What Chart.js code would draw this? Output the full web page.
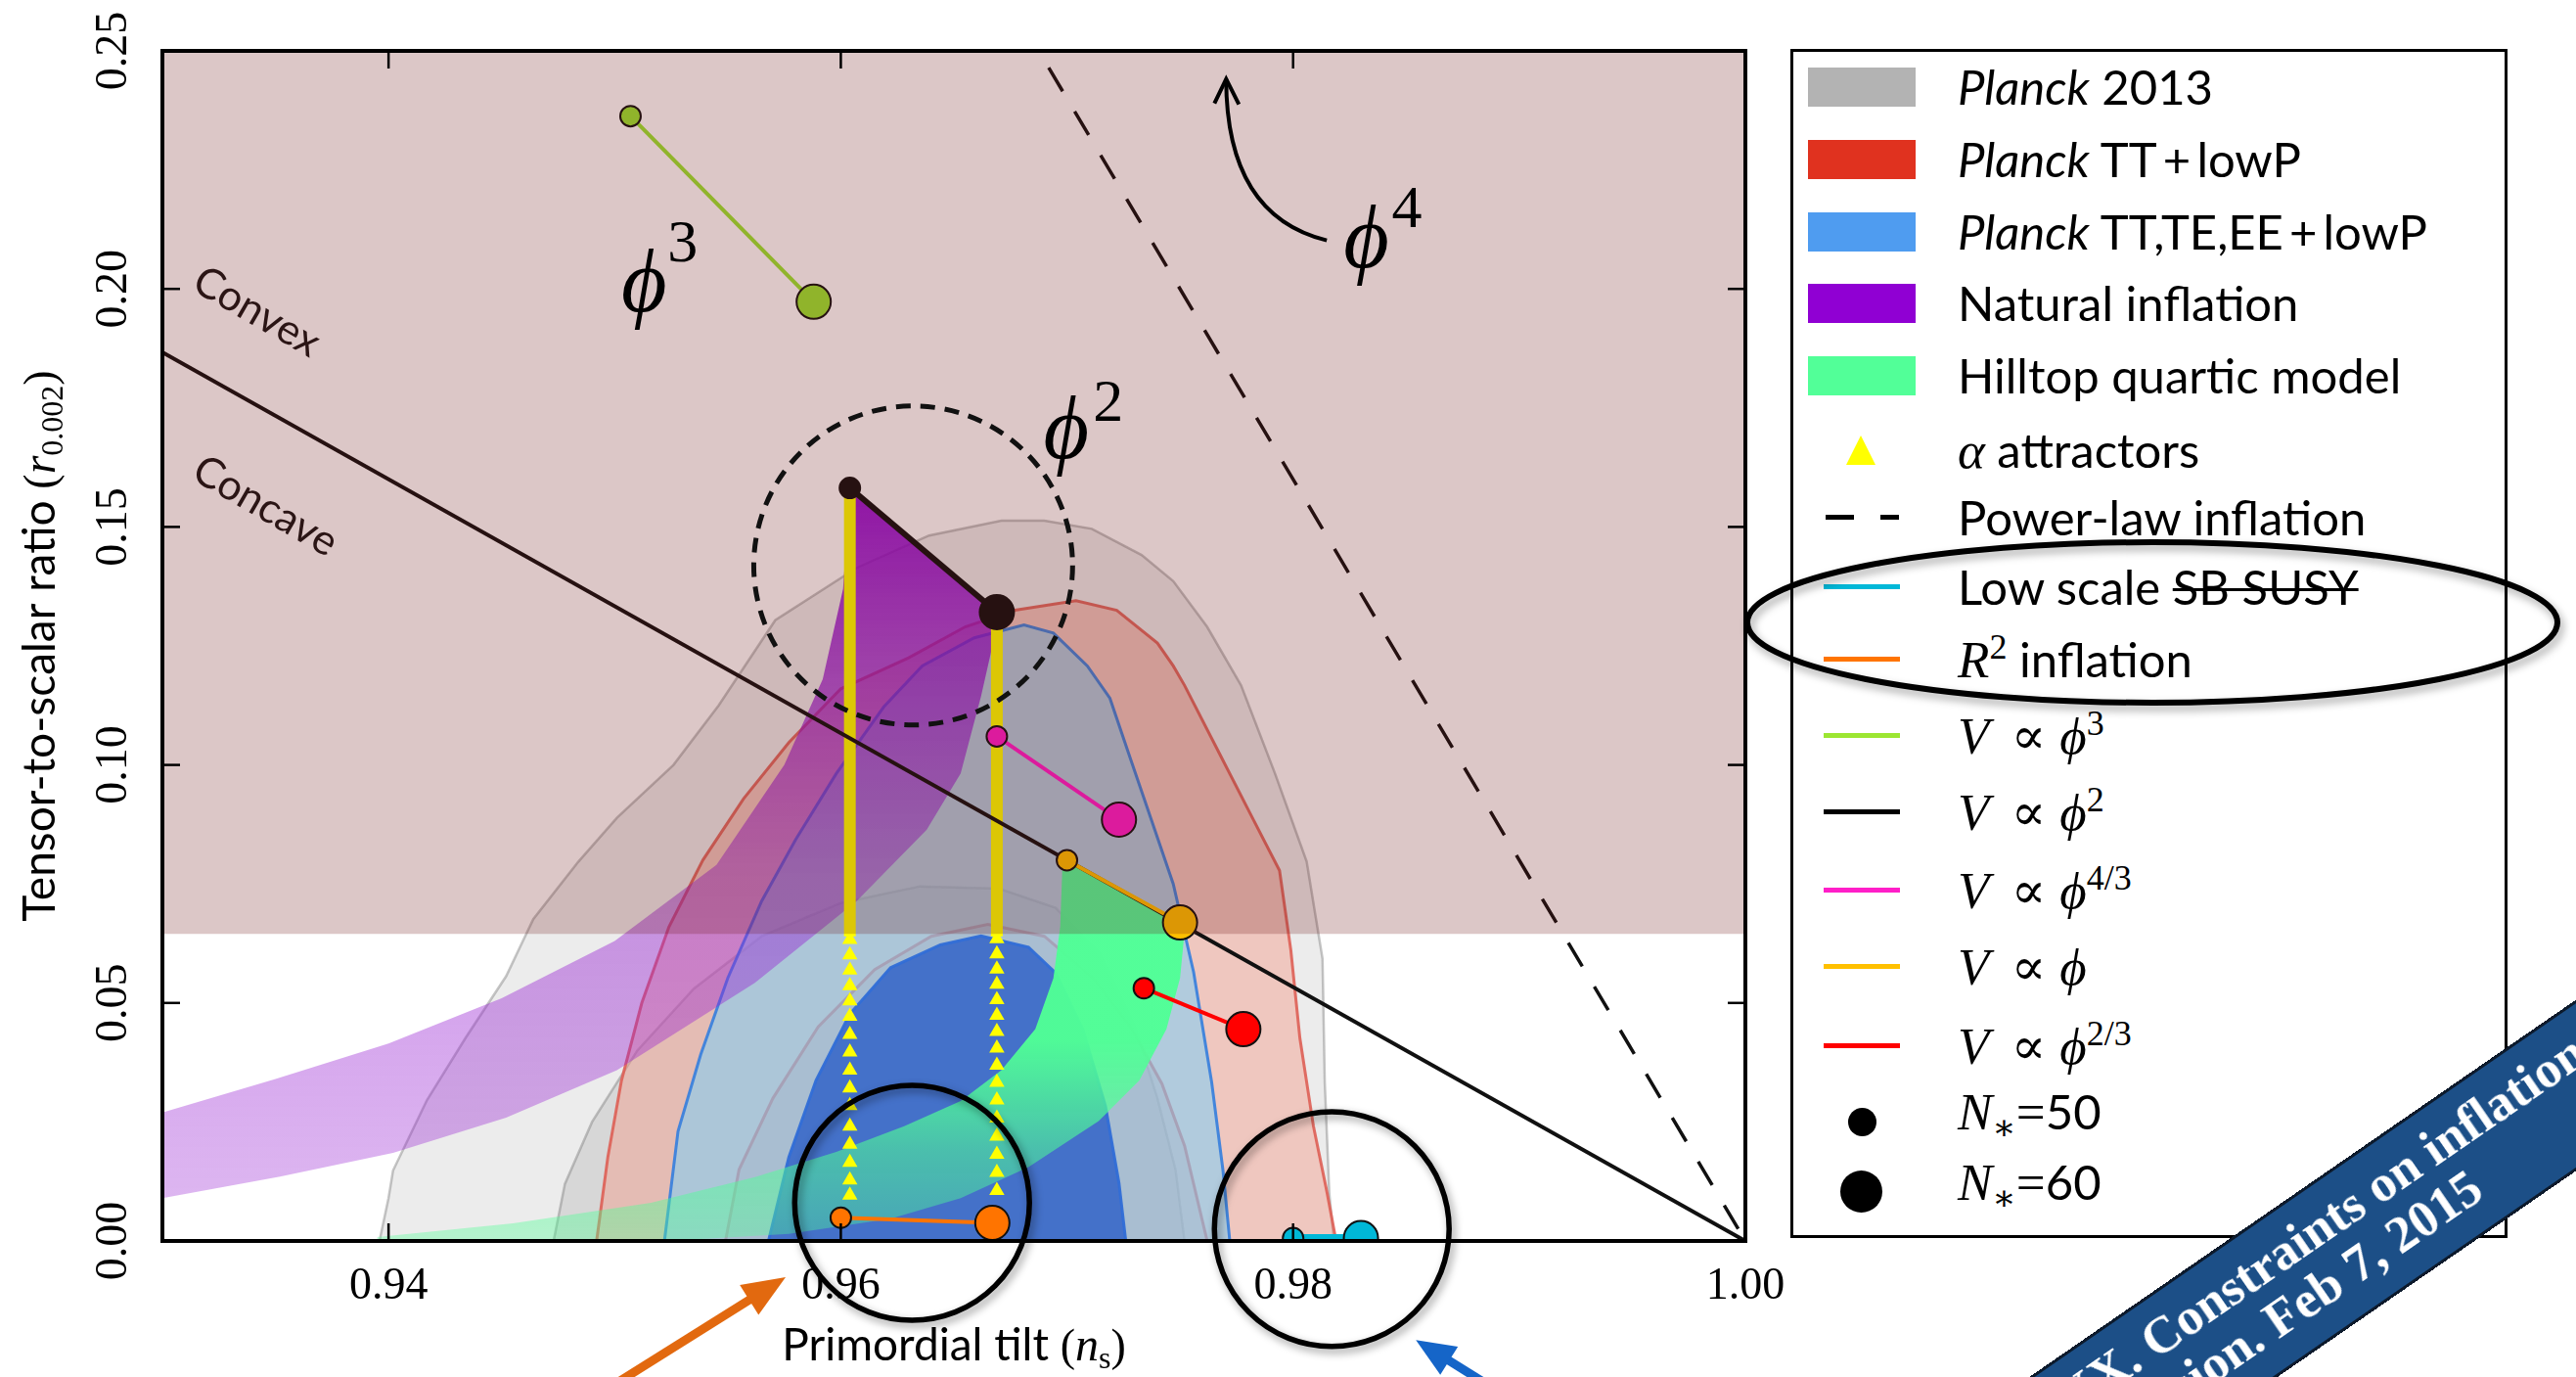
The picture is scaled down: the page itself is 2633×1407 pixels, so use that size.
<!DOCTYPE html>
<html><head><meta charset="utf-8">
<script src="https://cdn.jsdelivr.net/npm/chart.js@4.4.1/dist/chart.umd.min.js"></script>
<style>
html,body{margin:0;padding:0;width:2633px;height:1407px;overflow:hidden;background:#fff}
#c{position:absolute;left:0;top:0}
#legend{position:absolute;left:1830px;top:50px;width:727px;height:1209px;border:3px solid #000;background:#fff;z-index:1}
.t{position:absolute;left:2001px;height:60px;line-height:60px;font-family:Lato,"Open Sans",sans-serif;font-size:49px;color:#000;white-space:nowrap;z-index:2}
.mi{font-family:"Liberation Serif","DejaVu Serif",serif;font-style:italic;font-size:53px;line-height:0}
.mr{font-family:"Liberation Serif","DejaVu Serif",serif;font-size:53px;line-height:0}
.sp{font-family:"Liberation Serif","DejaVu Serif",serif;font-size:36px;vertical-align:19px;line-height:0}
.sb{font-family:"Liberation Serif","DejaVu Serif",serif;font-size:36px;vertical-align:-10px;line-height:0}
.rel{margin:0 14px 0 22px}
.h{position:absolute;z-index:2}
.bl{position:absolute;white-space:nowrap;font-family:"Liberation Serif","DejaVu Serif",serif;font-weight:bold;font-size:53px;line-height:53px;height:53px;color:#fff}
</style></head>
<body>
<canvas id="c" width="2633" height="1407"></canvas>

<div id="legend"></div>
<div class="h" style="left:1848px;top:69px;width:110px;height:40px;background:#b3b3b3"></div>
<div class="h" style="left:1848px;top:143px;width:110px;height:40px;background:#e0321f"></div>
<div class="h" style="left:1848px;top:217px;width:110px;height:40px;background:#4f9cf0"></div>
<div class="h" style="left:1848px;top:290px;width:110px;height:40px;background:#9000d3"></div>
<div class="h" style="left:1848px;top:364px;width:110px;height:40px;background:#52ff98"></div>
<div class="h" style="left:1887px;top:445px;width:0;height:0;border-left:15px solid transparent;border-right:15px solid transparent;border-bottom:30px solid #ffff00"></div>
<div class="h" style="left:1866px;top:526px;width:29px;height:5px;background:#000"></div>
<div class="h" style="left:1922px;top:526px;width:19px;height:5px;background:#000"></div>
<div class="h" style="left:1864px;top:597px;width:78px;height:5px;background:#00b8d8"></div>
<div class="h" style="left:1864px;top:671px;width:78px;height:5px;background:#ff7400"></div>
<div class="h" style="left:1864px;top:749px;width:78px;height:5px;background:#9ce632"></div>
<div class="h" style="left:1864px;top:827px;width:78px;height:5px;background:#000"></div>
<div class="h" style="left:1864px;top:907px;width:78px;height:5px;background:#ff1ec8"></div>
<div class="h" style="left:1864px;top:985px;width:78px;height:5px;background:#ffc000"></div>
<div class="h" style="left:1864px;top:1066px;width:78px;height:5px;background:#ff0000"></div>
<div class="h" style="left:1889px;top:1132px;width:29px;height:29px;border-radius:50%;background:#000"></div>
<div class="h" style="left:1881px;top:1196px;width:43px;height:43px;border-radius:50%;background:#000"></div>

<div class="t" style="top:58px"><i>Planck</i> 2013</div>
<div class="t" style="top:132px"><i>Planck</i> TT&thinsp;+&thinsp;lowP</div>
<div class="t" style="top:206px"><i>Planck</i> TT,TE,EE&thinsp;+&thinsp;lowP</div>
<div class="t" style="top:279px">Natural inflation</div>
<div class="t" style="top:353px">Hilltop quartic model</div>
<div class="t" style="top:429px"><span class="mi">α</span> attractors</div>
<div class="t" style="top:498px">Power-law inflation</div>
<div class="t" style="top:569px">Low scale <s style="text-decoration-thickness:3px">SB SUSY</s></div>
<div class="t" style="top:643px"><span class="mi">R</span><span class="sp">2</span> inflation</div>
<div class="t" style="top:721px"><span class="mi">V</span><span class="mr rel">∝</span><span class="mi">ϕ</span><span class="sp">3</span></div>
<div class="t" style="top:799px"><span class="mi">V</span><span class="mr rel">∝</span><span class="mi">ϕ</span><span class="sp">2</span></div>
<div class="t" style="top:879px"><span class="mi">V</span><span class="mr rel">∝</span><span class="mi">ϕ</span><span class="sp">4/3</span></div>
<div class="t" style="top:957px"><span class="mi">V</span><span class="mr rel">∝</span><span class="mi">ϕ</span></div>
<div class="t" style="top:1038px"><span class="mi">V</span><span class="mr rel">∝</span><span class="mi">ϕ</span><span class="sp">2/3</span></div>
<div class="t" style="top:1105px"><span class="mi">N</span><span class="sb">∗</span><span class="mr">=</span>50</div>
<div class="t" style="top:1177px"><span class="mi">N</span><span class="sb">∗</span><span class="mr">=</span>60</div>

<svg width="2633" height="1407" style="position:absolute;left:0;top:0;z-index:3;pointer-events:none">
<defs><filter id="sh" x="-10%" y="-40%" width="120%" height="180%"><feDropShadow dx="3" dy="5" stdDeviation="4" flood-color="#000" flood-opacity="0.35"/></filter></defs>
<ellipse cx="2200" cy="636" rx="414" ry="82" fill="none" stroke="#000" stroke-width="6" filter="url(#sh)"/>
</svg>

<div style="position:absolute;left:2633px;top:1109px;width:0;height:0;transform:rotate(-34.6deg);transform-origin:0 0;z-index:5">
  <div style="position:absolute;left:-1000px;top:-72px;width:1400px;height:138px;background:#1c4f87;border-top:3px solid #0c1a2c;border-bottom:3px solid #0c1a2c"></div>
  <div class="bl" style="right:-26px;top:-57px">Planck 2015 results. XX. Constraints on inflation</div>
  <div class="bl" style="right:140px;top:-3px">Preliminary version. Feb 7, 2015</div>
</div>

<script>
// ---------------- axes ----------------
const nsRange = [0.93, 1.00];
const rRange = [0.00, 0.25];
const xTickValues = [0.94, 0.96, 0.98, 1.00];
const yTickValues = [0.00, 0.05, 0.10, 0.15, 0.20, 0.25];

// ---------------- Planck constraints: boundary points [n_s, r] ----------------
const planck2013_95 = [[0.9396,0],[0.9400,0.0090],[0.9402,0.0148],[0.9417,0.0296],[0.9434,0.0426],[0.9452,0.0556],[0.9464,0.0676],[0.9484,0.0797],[0.9501,0.0889],[0.9526,0.1000],[0.9546,0.1125],[0.9571,0.1304],[0.9607,0.1414],[0.9639,0.1482],[0.9671,0.1513],[0.9690,0.1513],[0.9711,0.1496],[0.9733,0.1441],[0.9747,0.1386],[0.9762,0.1290],[0.9777,0.1167],[0.9792,0.0982],[0.9806,0.0797],[0.9813,0.0593],[0.9814,0.0333],[0.9816,0.0100],[0.9818,0],[0.9396,0]];
const planck2013_68 = [[0.9473,0],[0.9478,0.0120],[0.9490,0.0250],[0.9510,0.0400],[0.9535,0.0530],[0.9565,0.0640],[0.9600,0.0710],[0.9635,0.0745],[0.9670,0.0740],[0.9695,0.0700],[0.9715,0.0600],[0.9730,0.0450],[0.9740,0.0300],[0.9748,0.0150],[0.9752,0],[0.9473,0]];
const planckTT_95 = [[0.9492,0],[0.9497,0.0177],[0.9503,0.0337],[0.9512,0.0500],[0.9524,0.0660],[0.9539,0.0800],[0.9557,0.0929],[0.9577,0.1047],[0.9600,0.1160],[0.9630,0.1225],[0.9655,0.1290],[0.9677,0.1325],[0.9704,0.1345],[0.9722,0.1325],[0.9740,0.1256],[0.9747,0.1208],[0.9752,0.1167],[0.9767,0.1028],[0.9782,0.0889],[0.9794,0.0778],[0.9799,0.0611],[0.9803,0.0426],[0.9809,0.0241],[0.9815,0.0102],[0.9819,0],[0.9492,0]];
const planckTT_68 = [[0.9549,0],[0.9555,0.0150],[0.9570,0.0300],[0.9590,0.0450],[0.9615,0.0570],[0.9640,0.0640],[0.9665,0.0665],[0.9690,0.0640],[0.9712,0.0550],[0.9728,0.0450],[0.9742,0.0330],[0.9752,0.0200],[0.9762,0],[0.9549,0]];
const planckTTTEEE_95 = [[0.9522,0],[0.9528,0.0230],[0.9538,0.0391],[0.9550,0.0552],[0.9565,0.0714],[0.9580,0.0843],[0.9598,0.0982],[0.9619,0.1122],[0.9636,0.1208],[0.9659,0.1267],[0.9681,0.1294],[0.9694,0.1277],[0.9709,0.1208],[0.9719,0.1140],[0.9727,0.1028],[0.9737,0.0889],[0.9747,0.0750],[0.9756,0.0565],[0.9764,0.0333],[0.9769,0.0148],[0.9772,0],[0.9522,0]];
const planckTTTEEE_68 = [[0.9568,0],[0.9577,0.0176],[0.9589,0.0337],[0.9604,0.0477],[0.9622,0.0574],[0.9644,0.0622],[0.9662,0.0641],[0.9683,0.0617],[0.9695,0.0563],[0.9707,0.0445],[0.9717,0.0284],[0.9723,0.0122],[0.9726,0],[0.9568,0]];

// ---------------- model regions ----------------
const naturalInflation = [[0.9300,0.0270],[0.9350,0.0340],[0.9400,0.0415],[0.9450,0.0510],[0.9500,0.0630],[0.9545,0.0790],[0.9575,0.1000],[0.9592,0.1180],[0.9601,0.1370],[0.9604,0.1582],[0.9669,0.1321],[0.9668,0.1270],[0.9662,0.1144],[0.9653,0.0982],[0.9638,0.0864],[0.9607,0.0714],[0.9562,0.0542],[0.9501,0.0359],[0.9452,0.0259],[0.9402,0.0185],[0.9352,0.0135],[0.9300,0.0090]];
const hilltopQuartic = [[0.9700,0.0800],[0.9750,0.0669],[0.9752,0.0649],[0.9750,0.0552],[0.9744,0.0445],[0.9732,0.0337],[0.9714,0.0252],[0.9683,0.0155],[0.9653,0.0090],[0.9622,0.0047],[0.9577,0.0015],[0.9531,0.0002],[0.9450,0],[0.9395,0],[0.9395,0.0008],[0.9455,0.0037],[0.9516,0.0080],[0.9562,0.0134],[0.9598,0.0187],[0.9628,0.0241],[0.9653,0.0294],[0.9671,0.0359],[0.9686,0.0445],[0.9694,0.0552],[0.9697,0.0660],[0.9698,0.0789]];

// ---------------- single-field models: [N*=50, N*=60] ----------------
const modelPhi3  = [[0.9507,0.2363],[0.9588,0.1973]];
const modelPhi2  = [[0.9604,0.1582],[0.9669,0.1321]];
const modelPhi43 = [[0.9669,0.1060],[0.9723,0.0885]];
const modelPhi1  = [[0.9700,0.0800],[0.9750,0.0669]];
const modelPhi23 = [[0.9734,0.0531],[0.9778,0.0445]];
const modelR2    = [[0.9600,0.0049],[0.9667,0.0038]];
const modelSUSY  = [[0.9800,0.0006],[0.9830,0.0006]];

// ---------------- alpha attractors ----------------
const alphaNs = [0.9604, 0.9669];
const alphaDenseTop = [0.1582, 0.1321];
const alphaDenseBottom = [0.0640, 0.0640];
const alphaLeftR  = [0.0633,0.0601,0.0569,0.0536,0.0504,0.0472,0.0434,0.0397,0.0359,0.0321,0.0284,0.0241,0.0203,0.0165,0.0128,0.0096];
const alphaRightR = [0.0635,0.0603,0.0571,0.0539,0.0507,0.0474,0.0440,0.0405,0.0369,0.0333,0.0296,0.0258,0.0220,0.0182,0.0144,0.0106];

// ---------------- reference lines ----------------
const concaveConvexLine = [[0.93,0.1867],[1.00,0]];
const powerLawLine = [[0.96875,0.25],[1.00,0]];
const excludedR = [0.0645, 0.25];

// ---------------- annotations (data coordinates) ----------------
const dashedCircle = {ns:0.9632, r:0.1419, rad:0.00705};
const solidCircles = [{ns:0.96315, r:0.0080, rad:0.00519},{ns:0.98171, r:0.0025, rad:0.00519}];
const phi4Arrow = [[0.98149,0.2102],[0.97704,0.2154],[0.97704,0.2441]];
const orangeArrow = [[0.94893,-0.0333],[0.95756,-0.0076]];
const blueArrow = [[0.98965,-0.0333],[0.98543,-0.0208]];
const phiLabels = [
  {sup:'3', ns:0.95131, r:0.2000, supNs:0.95300, supR:0.2099},
  {sup:'4', ns:0.98325, r:0.2092, supNs:0.98505, supR:0.2172},
  {sup:'2', ns:0.96998, r:0.1691, supNs:0.97180, supR:0.1765}
];
const regionLabels = [{text:'Convex', ns:0.93424, r:0.1954},{text:'Concave', ns:0.93461, r:0.1546}];

// ---------------- build ----------------
const SERIF = '"Liberation Serif", "DejaVu Serif", serif';
const SANS = 'Lato, "Open Sans", sans-serif';
const pts = a => a.map(([x,y]) => ({x, y}));

function vgrad(chart, stops, r0, r1, fallback) {
  if (!chart.chartArea) return fallback;
  const y = chart.scales.y;
  const g = chart.ctx.createLinearGradient(0, y.getPixelForValue(r0), 0, y.getPixelForValue(r1));
  for (const [o, c] of stops) g.addColorStop(o, c);
  return g;
}
function region(data, fillColor, edgeColor, edgeWidth) {
  return {data: pts(data), fill: 'shape', backgroundColor: fillColor, borderColor: edgeColor || 'rgba(0,0,0,0)',
          borderWidth: edgeWidth || 0, pointRadius: 0, tension: 0};
}
function model(data, color, lw) {
  return {data: pts(data), borderColor: color, borderWidth: lw, pointRadius: [10.5, 17.5],
          pointBackgroundColor: color, pointBorderColor: '#111', pointBorderWidth: 2, fill: false, tension: 0};
}
function line(data, color, lw, dash, dashOffset) {
  return {data: pts(data), borderColor: color, borderWidth: lw, borderDash: dash || [], borderDashOffset: dashOffset || 0,
          pointRadius: 0, fill: false, tension: 0, borderCapStyle: 'butt'};
}

const layers = [
  region(planck2013_95, 'rgba(140,140,140,0.17)', 'rgba(140,140,140,0.5)', 2.5),
  region(planck2013_68, 'rgba(140,140,140,0.22)', 'rgba(135,135,135,0.5)', 2.5),
  region(planckTT_95, 'rgba(245,150,130,0.42)', 'rgba(222,95,85,0.9)', 3),
  region(planckTT_68, 'rgba(200,120,120,0.22)', 'rgba(215,95,95,0.85)', 3),
  region(planckTTTEEE_95, 'rgba(125,205,245,0.55)', 'rgba(60,130,220,0.95)', 3),
  region(planckTTTEEE_68, 'rgba(50,100,200,0.85)', 'rgba(50,110,215,0.95)', 3),
  region(naturalInflation, c => vgrad(c.chart, [[0,'rgba(150,30,210,0.33)'],[0.45,'rgba(150,30,210,0.45)'],[1,'rgba(145,0,205,0.92)']], 0.01, 0.158, 'rgba(150,30,210,0.5)')),
  region(hilltopQuartic, c => vgrad(c.chart, [[0,'rgba(80,255,150,0.35)'],[0.45,'rgba(80,255,150,0.55)'],[1,'rgba(80,255,150,0.97)']], 0.0, 0.042, 'rgba(80,255,150,0.9)')),
  line([[alphaNs[0], alphaDenseTop[0]],[alphaNs[0], alphaDenseBottom[0]]], '#ffff00', 12),
  line([[alphaNs[1], alphaDenseTop[1]],[alphaNs[1], alphaDenseBottom[1]]], '#ffff00', 12),
  {data: alphaLeftR.map(r => ({x: alphaNs[0], y: r})), showLine: false, pointStyle: 'triangle', pointRadius: 9, pointBackgroundColor: '#ffff00', pointBorderWidth: 0},
  {data: alphaRightR.map(r => ({x: alphaNs[1], y: r})), showLine: false, pointStyle: 'triangle', pointRadius: 9, pointBackgroundColor: '#ffff00', pointBorderWidth: 0},
  line(concaveConvexLine, '#111', 4),
  line(powerLawLine, '#111', 3.5, [28, 24], 32),
  model(modelR2, '#ff7400', 4),
  model(modelSUSY, '#00b8d8', 8),
  model(modelPhi23, '#ff0000', 4),
  model(modelPhi1, '#ffc000', 4),
  model(modelPhi43, '#ff1ec8', 4),
  model(modelPhi2, '#111', 6),
  model(modelPhi3, '#9ce632', 4),
  {data: pts([[nsRange[0], excludedR[1]],[nsRange[1], excludedR[1]]]), fill: {value: excludedR[0]},
   backgroundColor: 'rgba(110,20,20,0.24)', borderWidth: 0, borderColor: 'rgba(0,0,0,0)', pointRadius: 0}
];
layers.forEach((d, i) => { d.order = 100 - i; });

function centerText(ctx, s, cx, cy) {
  const m = ctx.measureText(s);
  const l = -m.actualBoundingBoxLeft, r = m.actualBoundingBoxRight;
  const t = -m.actualBoundingBoxAscent, b = m.actualBoundingBoxDescent;
  ctx.fillText(s, cx - (l + r) / 2, cy - (t + b) / 2);
}
function richWidth(ctx, parts) { let w = 0; for (const p of parts) { ctx.font = p.f; w += ctx.measureText(p.t).width; } return w; }
function drawRich(ctx, parts, x, y) { for (const p of parts) { ctx.font = p.f; ctx.fillText(p.t, x, y + (p.dy || 0)); x += ctx.measureText(p.t).width; } }
function arrow(ctx, x0, y0, x1, y1, color, w, hl, hw) {
  const dx = x1 - x0, dy = y1 - y0, L = Math.hypot(dx, dy), ux = dx / L, uy = dy / L;
  const bx = x1 - ux * hl, by = y1 - uy * hl;
  ctx.strokeStyle = color; ctx.lineWidth = w; ctx.lineCap = 'butt';
  ctx.beginPath(); ctx.moveTo(x0, y0); ctx.lineTo(bx + ux * 2, by + uy * 2); ctx.stroke();
  ctx.fillStyle = color; ctx.beginPath(); ctx.moveTo(x1, y1);
  ctx.lineTo(bx - uy * hw / 2, by + ux * hw / 2); ctx.lineTo(bx + uy * hw / 2, by - ux * hw / 2); ctx.closePath(); ctx.fill();
}

const annotations = {
  id: 'annotations',
  afterDraw(chart) {
    const {ctx, chartArea: a, scales: {x, y}} = chart;
    const X = v => x.getPixelForValue(v), Y = v => y.getPixelForValue(v);
    ctx.save();
    ctx.textAlign = 'left'; ctx.textBaseline = 'alphabetic';
    // frame + inward ticks
    ctx.strokeStyle = '#000'; ctx.lineWidth = 4;
    ctx.strokeRect(a.left, a.top, a.right - a.left, a.bottom - a.top);
    ctx.lineWidth = 2.5;
    const seg = (x0, y0, x1, y1) => { ctx.beginPath(); ctx.moveTo(x0, y0); ctx.lineTo(x1, y1); ctx.stroke(); };
    for (const t of x.ticks) { const px = X(t.value); if (px < a.left + 3 || px > a.right - 3) continue; seg(px, a.bottom, px, a.bottom - 18); seg(px, a.top, px, a.top + 18); }
    for (const t of y.ticks) { const py = Y(t.value); if (py > a.bottom - 3 || py < a.top + 3) continue; seg(a.left, py, a.left + 18, py); seg(a.right, py, a.right - 18, py); }
    // y tick labels (rotated)
    ctx.fillStyle = '#000'; ctx.font = '46px ' + SERIF;
    for (const t of y.ticks) { ctx.save(); ctx.translate(a.left - 53, Y(t.value)); ctx.rotate(-Math.PI / 2); centerText(ctx, t.value.toFixed(2), 0, 0); ctx.restore(); }
    // axis titles
    const xt = [{t:'Primordial tilt ', f:'46px ' + SANS}, {t:'(', f:'46px ' + SERIF}, {t:'n', f:'italic 48px ' + SERIF}, {t:'s', f:'32px ' + SERIF, dy: 8}, {t:')', f:'46px ' + SERIF}];
    drawRich(ctx, xt, (a.left + a.right) / 2 - richWidth(ctx, xt) / 2, a.bottom + 122);
    const yt = [{t:'Tensor-to-scalar ratio ', f:'46px ' + SANS}, {t:'(', f:'46px ' + SERIF}, {t:'r', f:'italic 48px ' + SERIF}, {t:'0.002', f:'32px ' + SERIF, dy: 8}, {t:')', f:'46px ' + SERIF}];
    ctx.save(); ctx.translate(56, (a.top + a.bottom) / 2); ctx.rotate(-Math.PI / 2);
    drawRich(ctx, yt, -richWidth(ctx, yt) / 2, 0); ctx.restore();
    // convex / concave
    ctx.fillStyle = '#2b1515'; ctx.font = '43px ' + SANS;
    for (const l of regionLabels) { ctx.save(); ctx.translate(X(l.ns), Y(l.r)); ctx.rotate(30 * Math.PI / 180); centerText(ctx, l.text, 0, 0); ctx.restore(); }
    // phi labels
    ctx.fillStyle = '#000';
    for (const l of phiLabels) {
      ctx.font = 'italic 90px ' + SERIF; centerText(ctx, 'ϕ', X(l.ns), Y(l.r));
      ctx.font = '62px ' + SERIF; centerText(ctx, l.sup, X(l.supNs), Y(l.supR));
    }
    // phi^4 curved arrow
    const [s, c, e] = phi4Arrow.map(([u, v]) => [X(u), Y(v)]);
    ctx.strokeStyle = '#000'; ctx.lineWidth = 4;
    ctx.beginPath(); ctx.moveTo(s[0], s[1]); ctx.quadraticCurveTo(c[0], c[1], e[0], e[1]); ctx.stroke();
    ctx.beginPath(); ctx.moveTo(e[0] - 12, e[1] + 25); ctx.lineTo(e[0], e[1]); ctx.lineTo(e[0] + 13, e[1] + 26); ctx.stroke();
    // dashed circle around phi^2
    ctx.save(); ctx.setLineDash([15, 10]); ctx.lineWidth = 5; ctx.strokeStyle = '#111';
    ctx.beginPath(); ctx.arc(X(dashedCircle.ns), Y(dashedCircle.r), X(dashedCircle.ns + dashedCircle.rad) - X(dashedCircle.ns), 0, 2 * Math.PI); ctx.stroke(); ctx.restore();
    // solid circles
    for (const o of solidCircles) {
      ctx.save(); ctx.shadowColor = 'rgba(0,0,0,0.4)'; ctx.shadowBlur = 8; ctx.shadowOffsetX = 3; ctx.shadowOffsetY = 4;
      ctx.lineWidth = 5.5; ctx.strokeStyle = '#000';
      ctx.beginPath(); ctx.arc(X(o.ns), Y(o.r), X(o.ns + o.rad) - X(o.ns), 0, 2 * Math.PI); ctx.stroke(); ctx.restore();
    }
    // arrows below the axis
    arrow(ctx, X(orangeArrow[0][0]), Y(orangeArrow[0][1]), X(orangeArrow[1][0]), Y(orangeArrow[1][1]), '#e2690f', 9, 44, 36);
    arrow(ctx, X(blueArrow[0][0]), Y(blueArrow[0][1]), X(blueArrow[1][0]), Y(blueArrow[1][1]), '#1565c8', 9, 40, 34);
    ctx.restore();
  }
};

Chart.defaults.color = '#000';
new Chart(document.getElementById('c'), {
  type: 'line',
  data: {datasets: layers},
  options: {
    responsive: false, animation: false, devicePixelRatio: 1,
    layout: {padding: {left: 0, top: 52, right: 849, bottom: 0}},
    plugins: {legend: {display: false}, tooltip: {enabled: false}, title: {display: false}},
    elements: {line: {tension: 0}, point: {radius: 0}},
    scales: {
      x: {type: 'linear', min: nsRange[0], max: nsRange[1], bounds: 'data',
          grid: {display: false, drawTicks: false, tickLength: 0}, border: {display: false},
          ticks: {font: {family: SERIF, size: 46}, color: '#000', padding: 19, maxRotation: 0, autoSkip: false, callback: v => v.toFixed(2)},
          afterBuildTicks: s => { s.ticks = xTickValues.map(v => ({value: v})); },
          afterFit: s => { s.height = 139; }},
      y: {type: 'linear', min: rRange[0], max: rRange[1], bounds: 'data',
          grid: {display: false, drawTicks: false, tickLength: 0}, border: {display: false},
          ticks: {display: false},
          afterBuildTicks: s => { s.ticks = yTickValues.map(v => ({value: v})); },
          afterFit: s => { s.width = 166; }}
    }
  },
  plugins: [annotations]
});
</script>
</body></html>
